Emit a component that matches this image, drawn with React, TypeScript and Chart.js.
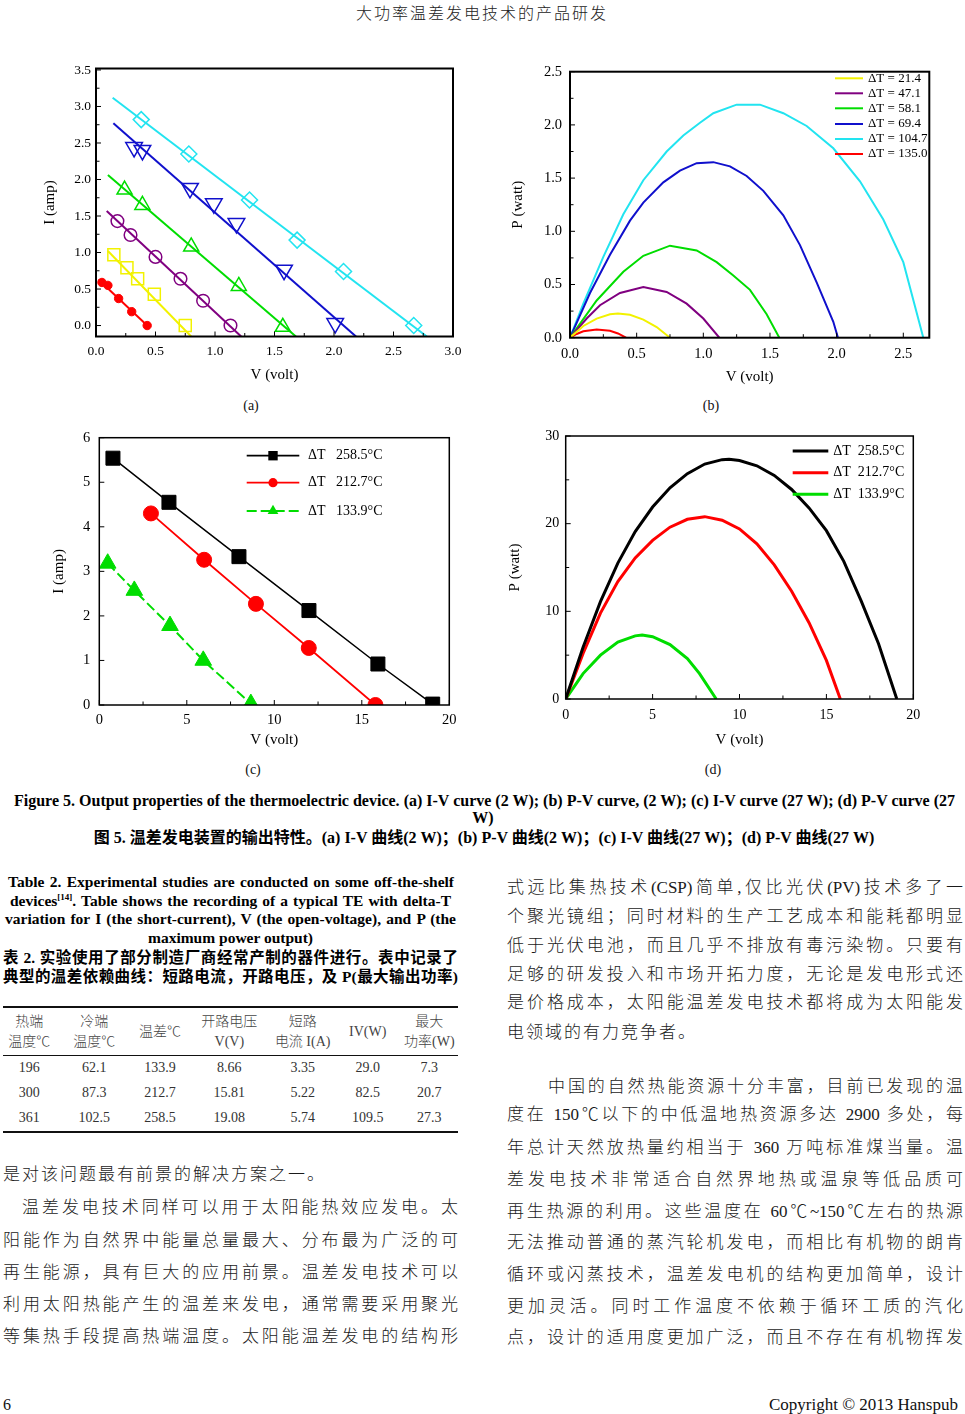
import React, { useEffect, useRef } from 'react';
import { Chart, registerables } from 'chart.js';

Chart.register(...registerables);

const SERIF = '"Liberation Serif", "Times New Roman", serif';
const MIXED = '"Liberation Serif", "Noto Sans CJK SC", serif';
const CJK = '"Noto Sans CJK SC", sans-serif';

/* ---------------- (a) I-V curve, 2 W ---------------- */
const aXTicks = [0, 0.5, 1.0, 1.5, 2.0, 2.5, 3.0];
const aYTicks = [0, 0.5, 1.0, 1.5, 2.0, 2.5, 3.0, 3.5];
const aXMinor = [0.25, 0.75, 1.25, 1.75, 2.25, 2.75];
const aYMinor = [0.25, 0.75, 1.25, 1.75, 2.25, 2.75, 3.25];

const aRedV = [0.05, 0.10, 0.19, 0.30, 0.43];
const aRedI = [0.59, 0.55, 0.37, 0.19, 0.0];
const aRedFitV = [0.02, 0.45];
const aRedFitI = [0.63, -0.03];

const aYellowV = [0.15, 0.26, 0.35, 0.49, 0.75];
const aYellowI = [0.97, 0.79, 0.64, 0.43, 0.0];
const aYellowFitV = [0.10, 0.80];
const aYellowFitI = [1.02, -0.15];

const aPurpleV = [0.18, 0.29, 0.50, 0.71, 0.90, 1.13];
const aPurpleI = [1.43, 1.24, 0.94, 0.64, 0.34, 0.0];
const aPurpleFitV = [0.09, 1.22];
const aPurpleFitI = [1.57, -0.15];

const aGreenV = [0.24, 0.39, 0.80, 1.20, 1.57];
const aGreenI = [1.86, 1.65, 1.08, 0.54, -0.02];
const aGreenFitV = [0.10, 1.68];
const aGreenFitI = [2.06, -0.15];

const aBlueV = [0.32, 0.39, 0.79, 0.99, 1.18, 1.58, 2.01];
const aBlueI = [2.44, 2.40, 1.88, 1.67, 1.40, 0.76, 0.03];
const aBlueFitV = [0.146, 2.185];
const aBlueFitI = [2.77, -0.15];

const aCyanV = [0.38, 0.78, 1.29, 1.69, 2.08, 2.67];
const aCyanI = [2.82, 2.35, 1.72, 1.17, 0.74, 0.0];
const aCyanFitV = [0.14, 2.78];
const aCyanFitI = [3.12, -0.15];

/* ---------------- (b) P-V curve, 2 W ---------------- */
const bXTicks = [0, 0.5, 1.0, 1.5, 2.0, 2.5];
const bYTicks = [0, 0.5, 1.0, 1.5, 2.0, 2.5];
const bXMinor = [0.25, 0.75, 1.25, 1.75, 2.25];
const bYMinor = [0.25, 0.75, 1.25, 1.75, 2.25];
const bLabels = ['ΔT = 21.4', 'ΔT = 47.1', 'ΔT = 58.1', 'ΔT = 69.4', 'ΔT = 104.7', 'ΔT = 135.0'];

const bYellowV = [0, 0.1, 0.2, 0.3, 0.36, 0.45, 0.55, 0.65, 0.75];
const bYellowP = [0, 0.11, 0.18, 0.22, 0.227, 0.215, 0.17, 0.10, 0];
const bPurpleV = [0, 0.125, 0.225, 0.375, 0.55, 0.725, 0.875, 1.0, 1.12];
const bPurpleP = [0, 0.18, 0.305, 0.42, 0.476, 0.43, 0.32, 0.18, 0];
const bGreenV = [0, 0.2, 0.4, 0.55, 0.75, 0.95, 1.1, 1.225, 1.35, 1.475, 1.57];
const bGreenP = [0, 0.35, 0.62, 0.77, 0.865, 0.82, 0.71, 0.585, 0.45, 0.22, 0];
const bBlueV = [0, 0.15, 0.3, 0.45, 0.55, 0.7, 0.825, 0.95, 1.075, 1.2, 1.325, 1.45, 1.6, 1.725, 1.85, 1.975, 2.01];
const bBlueP = [0, 0.42, 0.78, 1.1, 1.27, 1.46, 1.57, 1.64, 1.65, 1.61, 1.52, 1.38, 1.15, 0.87, 0.52, 0.15, 0];
const bCyanV = [0, 0.1, 0.25, 0.4, 0.55, 0.725, 0.85, 0.975, 1.075, 1.25, 1.425, 1.6, 1.775, 1.975, 2.175, 2.35, 2.5, 2.65];
const bCyanP = [0, 0.32, 0.76, 1.16, 1.48, 1.75, 1.9, 2.02, 2.11, 2.19, 2.19, 2.11, 1.99, 1.78, 1.47, 1.11, 0.71, 0];
const bRedV = [0, 0.05, 0.1, 0.2, 0.3, 0.36, 0.42];
const bRedP = [0, 0.035, 0.06, 0.078, 0.065, 0.04, 0];

/* ---------------- (c) I-V curve, 27 W ---------------- */
const cXTicks = [0, 5, 10, 15, 20];
const cYTicks = [0, 1, 2, 3, 4, 5, 6];
const cXMinor = [2.5, 7.5, 12.5, 17.5];
const cLabels = ['ΔT   258.5°C', 'ΔT   212.7°C', 'ΔT   133.9°C'];

const cBlackV = [0.78, 3.98, 7.98, 11.98, 15.92, 19.05];
const cBlackI = [5.54, 4.55, 3.33, 2.12, 0.92, 0.02];
const cRedV = [2.95, 5.99, 8.95, 11.97, 15.78];
const cRedI = [4.30, 3.26, 2.27, 1.28, 0.0];
const cGreenV = [0.48, 2.0, 4.04, 5.94, 8.66];
const cGreenI = [3.18, 2.57, 1.78, 1.0, 0.03];

/* ---------------- (d) P-V curve, 27 W ---------------- */
const dXTicks = [0, 5, 10, 15, 20];
const dYTicks = [0, 10, 20, 30];
const dXMinor = [2.5, 7.5, 12.5, 17.5];
const dYMinor = [5, 15, 25];
const dLabels = ['ΔT  258.5°C', 'ΔT  212.7°C', 'ΔT  133.9°C'];

const dBlackV = [0, 1, 2, 3, 4, 5, 6, 7, 8, 9, 9.4, 10, 11, 12, 13, 14, 15, 16, 17, 18, 19.05];
const dBlackP = [0, 5.9, 11.1, 15.5, 19.1, 21.9, 24.1, 25.7, 26.8, 27.3, 27.34, 27.2, 26.6, 25.5, 23.9, 21.8, 19.2, 15.7, 11.2, 6.3, 0];
const dRedV = [0, 1, 2, 3, 4, 5, 6, 7, 8, 9, 10, 11, 12, 13, 14, 15, 15.8];
const dRedP = [0, 5.2, 9.8, 13.4, 16.1, 18.1, 19.6, 20.5, 20.8, 20.4, 19.4, 17.7, 15.3, 12.3, 8.7, 4.4, 0];
const dGreenV = [0, 1, 2, 3, 4, 4.4, 5, 6, 7, 7.7, 8.66];
const dGreenP = [0, 2.9, 5.0, 6.5, 7.2, 7.3, 7.1, 6.2, 4.6, 2.9, 0];

/* ---------------- Table 2 ---------------- */
const tHead1 = ['热端', '冷端', '', '开路电压', '短路', '', '最大'];
const tHead2 = ['温度℃', '温度℃', '', 'V(V)', '电流 I(A)', '', '功率(W)'];
const tHeadSingle = ['', '', '温差℃', '', '', 'IV(W)', ''];
const tRows = [
  ['196', '62.1', '133.9', '8.66', '3.35', '29.0', '7.3'],
  ['300', '87.3', '212.7', '15.81', '5.22', '82.5', '20.7'],
  ['361', '102.5', '258.5', '19.08', '5.74', '109.5', '27.3'],
];

/* ---------------- helpers ---------------- */
const pts = (xs: number[], ys: number[]) => xs.map((x, k) => ({ x, y: ys[k] }));

const lineDs = (xs: number[], ys: number[], color: string, width: number, dash: number[] = []) => ({
  data: pts(xs, ys),
  showLine: true,
  borderColor: color,
  backgroundColor: color,
  borderWidth: width,
  borderDash: dash,
  pointRadius: 0,
  pointHoverRadius: 0,
  fill: false,
  tension: 0,
});

const markDs = (
  xs: number[], ys: number[], color: string, style: string, r: number,
  filled: boolean, rot = 0, bw = 1.5, showLine = false, lw = 1.5, dash: number[] = []
) => ({
  data: pts(xs, ys),
  showLine,
  borderColor: color,
  backgroundColor: filled ? color : 'rgba(0,0,0,0)',
  borderWidth: lw,
  borderDash: dash,
  pointStyle: style,
  pointRadius: r,
  pointHoverRadius: r,
  pointRotation: rot,
  pointBorderColor: color,
  pointBackgroundColor: filled ? color : 'rgba(0,0,0,0)',
  pointBorderWidth: bw,
  fill: false,
  tension: 0,
});

type LegendItem = {
  x1: number; x2: number; y: number; color: string; lw: number; dash?: number[];
  marker?: { style: string; r: number }; text: string; tx: number; font: string;
};

type Spec = {
  left: number; top: number; width: number; height: number;
  xMin: number; xMax: number; yMin: number; yMax: number;
  xTicks: number[]; yTicks: number[]; xMinor: number[]; yMinor: number[];
  decimals: number; tickSize: number;
  yAxisW: number; xAxisH: number; padTop: number; padRight: number;
  xTickPad: number; yTickPad: number;
  xTitle: string; yTitle: string; titleSize: number; xTitlePad: number; yTitlePad: number;
  frameWidth: number;
  datasets: any[];
  legend: LegendItem[];
};

function drawMarker(ctx: CanvasRenderingContext2D, style: string, r: number, x: number, y: number, color: string) {
  ctx.save();
  ctx.fillStyle = color;
  ctx.setLineDash([]);
  ctx.beginPath();
  if (style === 'rect') {
    ctx.rect(x - r, y - r, 2 * r, 2 * r);
  } else if (style === 'circle') {
    ctx.arc(x, y, r, 0, Math.PI * 2);
  } else if (style === 'triangle') {
    ctx.moveTo(x, y - r);
    ctx.lineTo(x + r * 0.866, y + r * 0.5);
    ctx.lineTo(x - r * 0.866, y + r * 0.5);
    ctx.closePath();
  }
  ctx.fill();
  ctx.restore();
}

function makePlugin(s: Spec) {
  return {
    id: 'frameAndLegend',
    afterDraw(chart: any) {
      const { ctx, chartArea: ca, scales } = chart;
      const xs = scales.x;
      const ys = scales.y;
      ctx.save();
      ctx.strokeStyle = '#000';
      ctx.lineWidth = 1;
      ctx.setLineDash([]);
      const tickX = (vals: number[], len: number) => {
        for (const v of vals) {
          const p = xs.getPixelForValue(v);
          ctx.beginPath();
          ctx.moveTo(p, ca.bottom);
          ctx.lineTo(p, ca.bottom - len);
          ctx.stroke();
        }
      };
      const tickY = (vals: number[], len: number) => {
        for (const v of vals) {
          const p = ys.getPixelForValue(v);
          ctx.beginPath();
          ctx.moveTo(ca.left, p);
          ctx.lineTo(ca.left + len, p);
          ctx.stroke();
        }
      };
      tickX(s.xTicks, 5);
      tickX(s.xMinor, 3.5);
      tickY(s.yTicks, 5);
      tickY(s.yMinor, 3.5);
      ctx.lineWidth = s.frameWidth;
      ctx.strokeRect(ca.left, ca.top, ca.right - ca.left, ca.bottom - ca.top);

      for (const it of s.legend) {
        const x1 = it.x1 - s.left;
        const x2 = it.x2 - s.left;
        const y = it.y - s.top;
        ctx.beginPath();
        ctx.setLineDash(it.dash || []);
        ctx.lineWidth = it.lw;
        ctx.strokeStyle = it.color;
        ctx.moveTo(x1, y);
        ctx.lineTo(x2, y);
        ctx.stroke();
        ctx.setLineDash([]);
        if (it.marker) drawMarker(ctx, it.marker.style, it.marker.r, (x1 + x2) / 2, y, it.color);
        ctx.fillStyle = '#000';
        ctx.font = it.font;
        ctx.textAlign = 'left';
        ctx.textBaseline = 'middle';
        ctx.fillText(it.text, it.tx - s.left, y);
      }
      ctx.restore();
    },
  };
}

function makeConfig(s: Spec): any {
  const tickFont = { family: SERIF, size: s.tickSize };
  const titleFont = { family: SERIF, size: s.titleSize, lineHeight: 1.2 };
  return {
    type: 'scatter',
    data: { datasets: s.datasets },
    options: {
      responsive: false,
      maintainAspectRatio: false,
      animation: false,
      devicePixelRatio: 1,
      events: [],
      layout: { padding: { top: s.padTop, right: s.padRight, left: 0, bottom: 0 } },
      plugins: { legend: { display: false }, tooltip: { enabled: false } },
      scales: {
        x: {
          type: 'linear',
          position: 'bottom',
          min: s.xMin,
          max: s.xMax,
          afterBuildTicks: (sc: any) => { sc.ticks = s.xTicks.map((v) => ({ value: v })); },
          afterFit: (sc: any) => { sc.height = s.xAxisH; },
          grid: { display: false, drawTicks: false },
          border: { display: false },
          ticks: {
            color: '#000', font: tickFont, padding: s.xTickPad, maxRotation: 0, autoSkip: false,
            callback: (v: any) => Number(v).toFixed(s.decimals),
          },
          title: {
            display: true, text: s.xTitle, color: '#000', font: titleFont,
            padding: { top: 0, bottom: s.xTitlePad },
          },
        },
        y: {
          type: 'linear',
          position: 'left',
          min: s.yMin,
          max: s.yMax,
          afterBuildTicks: (sc: any) => { sc.ticks = s.yTicks.map((v) => ({ value: v })); },
          afterFit: (sc: any) => { sc.width = s.yAxisW; },
          grid: { display: false, drawTicks: false },
          border: { display: false },
          ticks: {
            color: '#000', font: tickFont, padding: s.yTickPad, autoSkip: false,
            callback: (v: any) => Number(v).toFixed(s.decimals),
          },
          title: {
            display: true, text: s.yTitle, color: '#000', font: titleFont,
            padding: { top: s.yTitlePad, bottom: 0 },
          },
        },
      },
    },
    plugins: [makePlugin(s)],
  };
}

function ChartPanel({ spec }: { spec: Spec }) {
  const ref = useRef<HTMLCanvasElement | null>(null);
  useEffect(() => {
    if (!ref.current) return;
    const chart = new Chart(ref.current, makeConfig(spec));
    return () => chart.destroy();
  }, []);
  return (
    <canvas
      ref={ref}
      width={spec.width}
      height={spec.height}
      style={{ position: 'absolute', left: spec.left, top: spec.top, width: spec.width, height: spec.height }}
    />
  );
}

/* ---------------- chart colours ---------------- */
const RED = '#ff0000';
const YELLOW = '#f2f200';
const PURPLE = '#800080';
const GREEN = '#00dd00';
const BLUE = '#1010cc';
const CYAN = '#22e4f0';
const BLACK = '#000000';

const specA: Spec = {
  left: 30, top: 55, width: 440, height: 335,
  xMin: 0, xMax: 3.0, yMin: -0.15, yMax: 3.52,
  xTicks: aXTicks, yTicks: aYTicks, xMinor: aXMinor, yMinor: aYMinor,
  decimals: 1, tickSize: 13.5,
  yAxisW: 66, xAxisH: 53.5, padTop: 13.5, padRight: 17,
  xTickPad: 6.8, yTickPad: 5,
  xTitle: 'V (volt)', yTitle: 'I (amp)', titleSize: 15, xTitlePad: 6, yTitlePad: 11,
  frameWidth: 2,
  datasets: [
    markDs(aRedV, aRedI, RED, 'circle', 4.2, true, 0, 1),
    markDs(aYellowV, aYellowI, YELLOW, 'rect', 8.5, false),
    markDs(aPurpleV, aPurpleI, PURPLE, 'circle', 6.3, false),
    markDs(aGreenV, aGreenI, GREEN, 'triangle', 8.7, false),
    markDs(aBlueV, aBlueI, BLUE, 'triangle', 9.6, false, 180),
    markDs(aCyanV, aCyanI, CYAN, 'rectRot', 8, false),
    lineDs(aRedFitV, aRedFitI, RED, 2),
    lineDs(aYellowFitV, aYellowFitI, YELLOW, 2),
    lineDs(aPurpleFitV, aPurpleFitI, PURPLE, 2),
    lineDs(aGreenFitV, aGreenFitI, GREEN, 2),
    lineDs(aBlueFitV, aBlueFitI, BLUE, 2),
    lineDs(aCyanFitV, aCyanFitI, CYAN, 2),
  ],
  legend: [],
};

const bColors = [YELLOW, PURPLE, GREEN, BLUE, CYAN, RED];
const bRows = [78.3, 93.3, 108.3, 124, 139, 154];

const specB: Spec = {
  left: 490, top: 55, width: 465, height: 335,
  xMin: 0, xMax: 2.695, yMin: 0, yMax: 2.5,
  xTicks: bXTicks, yTicks: bYTicks, xMinor: bXMinor, yMinor: bYMinor,
  decimals: 1, tickSize: 14.5,
  yAxisW: 80, xAxisH: 52.3, padTop: 15, padRight: 25.7,
  xTickPad: 7.9, yTickPad: 8,
  xTitle: 'V (volt)', yTitle: 'P (watt)', titleSize: 15, xTitlePad: 4.3, yTitlePad: 19.3,
  frameWidth: 2,
  datasets: [
    lineDs(bYellowV, bYellowP, YELLOW, 2),
    lineDs(bPurpleV, bPurpleP, PURPLE, 2),
    lineDs(bGreenV, bGreenP, GREEN, 2),
    lineDs(bBlueV, bBlueP, BLUE, 2),
    lineDs(bCyanV, bCyanP, CYAN, 2),
    lineDs(bRedV, bRedP, RED, 2),
  ],
  legend: bLabels.map((t, k) => ({
    x1: 835, x2: 863, y: bRows[k], color: bColors[k], lw: 2, text: t, tx: 868,
    font: `13px ${SERIF}`,
  })),
};

const cColors = [BLACK, RED, GREEN];
const cRows = [455.7, 482.7, 511];
const cMarkers = [{ style: 'rect', r: 4.7 }, { style: 'circle', r: 4.6 }, { style: 'triangle', r: 6.2 }];
const cDash = [[], [], [10, 4]];

const specC: Spec = {
  left: 30, top: 420, width: 440, height: 335,
  xMin: 0, xMax: 20, yMin: 0, yMax: 6,
  xTicks: cXTicks, yTicks: cYTicks, xMinor: cXMinor, yMinor: [],
  decimals: 0, tickSize: 14.5,
  yAxisW: 69.3, xAxisH: 50, padTop: 17, padRight: 20.7,
  xTickPad: 6.6, yTickPad: 9,
  xTitle: 'V (volt)', yTitle: 'I (amp)', titleSize: 15, xTitlePad: 6, yTitlePad: 19.8,
  frameWidth: 1.5,
  datasets: [
    markDs(cBlackV, cBlackI, BLACK, 'rect', 9.9, true, 0, 1, true, 1.5),
    markDs(cRedV, cRedI, RED, 'circle', 7.5, true, 0, 1, true, 1.8),
    markDs(cGreenV, cGreenI, GREEN, 'triangle', 9.6, true, 0, 1, true, 2, [10, 4]),
  ],
  legend: cLabels.map((t, k) => ({
    x1: 246.7, x2: 299.3, y: cRows[k], color: cColors[k], lw: 1.8, dash: cDash[k],
    marker: cMarkers[k], text: t, tx: 308, font: `14px ${SERIF}`,
  })),
};

const dRows = [451, 472.7, 494.3];

const specD: Spec = {
  left: 490, top: 420, width: 465, height: 335,
  xMin: 0, xMax: 20, yMin: 0, yMax: 30,
  xTicks: dXTicks, yTicks: dYTicks, xMinor: dXMinor, yMinor: dYMinor,
  decimals: 0, tickSize: 14,
  yAxisW: 75.7, xAxisH: 56, padTop: 16, padRight: 41.7,
  xTickPad: 7.6, yTickPad: 6.4,
  xTitle: 'V (volt)', yTitle: 'P (watt)', titleSize: 15, xTitlePad: 6, yTitlePad: 16,
  frameWidth: 1.5,
  datasets: [
    lineDs(dBlackV, dBlackP, BLACK, 3),
    lineDs(dRedV, dRedP, RED, 3),
    lineDs(dGreenV, dGreenP, GREEN, 3),
  ],
  legend: dLabels.map((t, k) => ({
    x1: 792.7, x2: 828.3, y: dRows[k], color: cColors[k], lw: 3, text: t, tx: 833.3,
    font: `14px ${SERIF}`,
  })),
};

/* ---------------- text helpers ---------------- */
function Txt(props: {
  x: number; y: number; w: number; h?: number; size: number; children: any;
  align?: 'left' | 'center' | 'right'; justify?: boolean; weight?: number; family?: string;
  color?: string; ls?: number;
}) {
  const { x, y, w, h = 22, size, children, align = 'left', justify = false, weight = 400, family = MIXED, color = '#111', ls } = props;
  return (
    <div
      style={{
        position: 'absolute', left: x, top: y - h / 2, width: w, height: h, lineHeight: `${h}px`,
        fontSize: size, fontFamily: family, fontWeight: weight, color,
        textAlign: justify ? 'justify' : align, textAlignLast: justify ? 'justify' : align,
        whiteSpace: justify ? 'normal' : 'nowrap', letterSpacing: ls, overflow: 'visible',
      } as any}
    >
      {children}
    </div>
  );
}

const leftLines: { t: string; y: number; x: number; j: boolean }[] = [
  { t: '是对该问题最有前景的解决方案之一。', y: 1175, x: 3, j: false },
  { t: '温差发电技术同样可以用于太阳能热效应发电。太', y: 1208, x: 22, j: true },
  { t: '阳能作为自然界中能量总量最大、分布最为广泛的可', y: 1241, x: 3, j: true },
  { t: '再生能源，具有巨大的应用前景。温差发电技术可以', y: 1273, x: 3, j: true },
  { t: '利用太阳热能产生的温差来发电，通常需要采用聚光', y: 1305, x: 3, j: true },
  { t: '等集热手段提高热端温度。太阳能温差发电的结构形', y: 1337, x: 3, j: true },
];

const rightLines: { t: string; y: number; x: number; j: boolean }[] = [
  { t: '式远比集热技术(CSP)简单,仅比光伏(PV)技术多了一', y: 888, x: 507, j: true },
  { t: '个聚光镜组；同时材料的生产工艺成本和能耗都明显', y: 917, x: 507, j: true },
  { t: '低于光伏电池，而且几乎不排放有毒污染物。只要有', y: 946, x: 507, j: true },
  { t: '足够的研发投入和市场开拓力度，无论是发电形式还', y: 975, x: 507, j: true },
  { t: '是价格成本，太阳能温差发电技术都将成为太阳能发', y: 1003, x: 507, j: true },
  { t: '电领域的有力竞争者。', y: 1033, x: 507, j: false },
  { t: '中国的自然热能资源十分丰富，目前已发现的温', y: 1087, x: 548, j: true },
  { t: '度在 150℃以下的中低温地热资源多达 2900 多处，每', y: 1115, x: 507, j: true },
  { t: '年总计天然放热量约相当于 360 万吨标准煤当量。温', y: 1148, x: 507, j: true },
  { t: '差发电技术非常适合自然界地热或温泉等低品质可', y: 1180, x: 507, j: true },
  { t: '再生热源的利用。这些温度在 60℃~150℃左右的热源', y: 1212, x: 507, j: true },
  { t: '无法推动普通的蒸汽轮机发电，而相比有机物的朗肯', y: 1243, x: 507, j: true },
  { t: '循环或闪蒸技术，温差发电机的结构更加简单，设计', y: 1275, x: 507, j: true },
  { t: '更加灵活。同时工作温度不依赖于循环工质的汽化', y: 1307, x: 507, j: true },
  { t: '点，设计的适用度更加广泛，而且不存在有机物挥发', y: 1338, x: 507, j: true },
];

const colCenters = [29.3, 94.3, 160, 229.3, 302.7, 367.7, 429.3];
const rowYs = [1068.3, 1093.3, 1118.3];

export default function App() {
  return (
    <div style={{ position: 'absolute', left: 0, top: 0, width: 965, height: 1414, background: '#fff', overflow: 'hidden' }}>
      {/* running header */}
      <Txt x={282} y={12} w={400} size={16} align="center" family={CJK} weight={300} ls={2} color="#222">
        大功率温差发电技术的产品研发
      </Txt>

      <ChartPanel spec={specA} />
      <ChartPanel spec={specB} />
      <ChartPanel spec={specC} />
      <ChartPanel spec={specD} />

      <Txt x={211} y={406} w={80} size={14} align="center" family={SERIF}>(a)</Txt>
      <Txt x={671} y={406} w={80} size={14} align="center" family={SERIF}>(b)</Txt>
      <Txt x={213} y={770} w={80} size={14} align="center" family={SERIF}>(c)</Txt>
      <Txt x={673} y={770} w={80} size={14} align="center" family={SERIF}>(d)</Txt>

      {/* figure caption */}
      <Txt x={14} y={801} w={941} h={18} size={16} weight={700} justify family={SERIF} color="#000">
        Figure 5. Output properties of the thermoelectric device. (a) I-V curve (2 W); (b) P-V curve, (2 W); (c) I-V curve (27 W); (d) P-V curve (27
      </Txt>
      <Txt x={383} y={818} w={200} h={18} size={16} weight={700} align="center" family={SERIF} color="#000">W)</Txt>
      <Txt x={84} y={838} w={800} h={20} size={16} weight={700} align="center" color="#000">
        图 5. 温差发电装置的输出特性。(a) I-V 曲线(2 W)；(b) P-V 曲线(2 W)；(c) I-V 曲线(27 W)；(d) P-V 曲线(27 W)
      </Txt>

      {/* table caption */}
      <Txt x={8} y={882} w={446} h={18} size={15.5} weight={700} justify family={SERIF} color="#000">
        Table 2. Experimental studies are conducted on some off-the-shelf
      </Txt>
      <Txt x={10} y={900.5} w={441} h={18} size={15.5} weight={700} justify family={SERIF} color="#000">
        devices<sup style={{ fontSize: 9, lineHeight: 0 }}>[14]</sup>. Table shows the recording of a typical TE with delta-T
      </Txt>
      <Txt x={5} y={919} w={451} h={18} size={15.5} weight={700} justify family={SERIF} color="#000">
        variation for I (the short-current), V (the open-voltage), and P (the
      </Txt>
      <Txt x={5} y={937.5} w={451} h={18} size={15.5} weight={700} align="center" family={SERIF} color="#000">
        maximum power output)
      </Txt>
      <Txt x={3} y={958} w={455} h={20} size={15.5} weight={700} justify color="#000">
        表 2. 实验使用了部分制造厂商经常产制的器件进行。表中记录了
      </Txt>
      <Txt x={3} y={977} w={455} h={20} size={15.5} weight={700} justify color="#000">
        典型的温差依赖曲线：短路电流，开路电压，及 P(最大输出功率)
      </Txt>

      {/* table */}
      <div style={{ position: 'absolute', left: 3, top: 1006, width: 455, height: 1.5, background: '#111' }} />
      <div style={{ position: 'absolute', left: 3, top: 1054.5, width: 455, height: 1.5, background: '#111' }} />
      <div style={{ position: 'absolute', left: 3, top: 1131, width: 455, height: 1.5, background: '#111' }} />
      {colCenters.map((cx, k) => (
        <React.Fragment key={'h' + k}>
          {tHead1[k] && (
            <Txt x={cx - 40} y={1021.7} w={80} h={20} size={14} align="center" weight={300} color="#444">{tHead1[k]}</Txt>
          )}
          {tHead2[k] && (
            <Txt x={cx - 40} y={1041.7} w={80} h={20} size={14} align="center" weight={300} color="#444">{tHead2[k]}</Txt>
          )}
          {tHeadSingle[k] && (
            <Txt x={cx - 40} y={1031.7} w={80} h={20} size={14} align="center" weight={300} color="#444">{tHeadSingle[k]}</Txt>
          )}
        </React.Fragment>
      ))}
      {tRows.map((row, r) =>
        row.map((cell, k) => (
          <Txt key={`c${r}-${k}`} x={colCenters[k] - 40} y={rowYs[r]} w={80} h={20} size={14} align="center" family={SERIF} color="#333">
            {cell}
          </Txt>
        ))
      )}

      {/* body text */}
      {leftLines.map((l, k) => (
        <Txt key={'l' + k} x={l.x} y={l.y} w={458 - l.x} h={26} size={17} justify={l.j} ls={l.j ? undefined : 2} weight={300} color="#1a1a1a">
          {l.t}
        </Txt>
      ))}
      {rightLines.map((l, k) => (
        <Txt key={'r' + k} x={l.x} y={l.y} w={963 - l.x} h={26} size={17} justify={l.j} ls={l.j ? undefined : 2} weight={300} color="#1a1a1a">
          {l.t}
        </Txt>
      ))}

      {/* footer */}
      <Txt x={3} y={1405} w={40} h={20} size={16} family={SERIF} color="#111">6</Txt>
      <Txt x={658} y={1405} w={300} h={20} size={17} align="right" family={SERIF} color="#111">Copyright © 2013 Hanspub</Txt>
    </div>
  );
}
